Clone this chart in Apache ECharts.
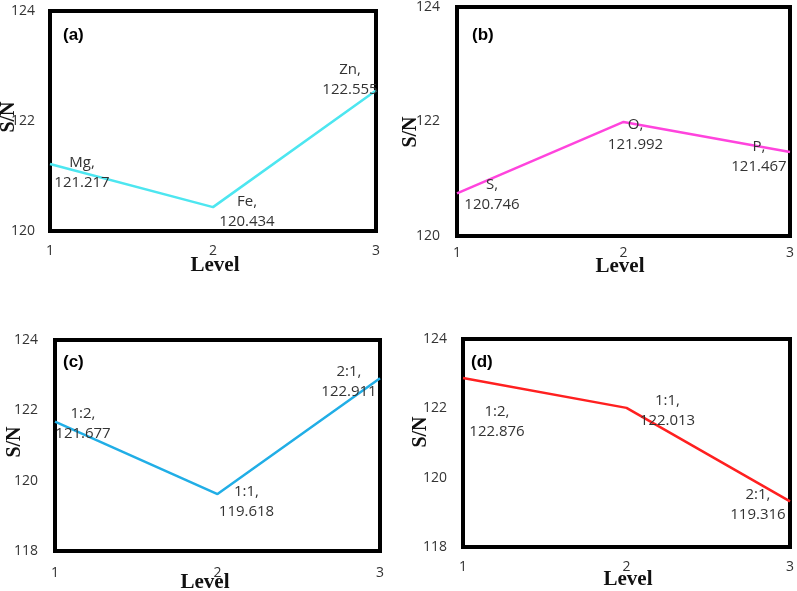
<!DOCTYPE html>
<html>
<head>
<meta charset="utf-8">
<script src="https://cdn.jsdelivr.net/npm/echarts@6/dist/echarts.min.js"></script>
<style>html,body{margin:0;padding:0;background:#fff}#c{width:797px;height:591px}</style>
</head>
<body>
<div id="c"></div>
<script>
const levels = [1, 2, 3];
const xTicks = [1, 2, 3];
const namesA = ['Mg', 'Fe', 'Zn'];
const valuesA = [121.217, 120.434, 122.555];
const namesB = ['S', 'O', 'P'];
const valuesB = [120.746, 121.992, 121.467];
const namesC = ['1:2', '1:1', '2:1'];
const valuesC = [121.677, 119.618, 122.911];
const namesD = ['1:2', '1:1', '2:1'];
const valuesD = [122.876, 122.013, 119.316];
const yTicksAB = [120, 122, 124];
const yTicksCD = [118, 120, 122, 124];
const panelTags = ['(a)', '(b)', '(c)', '(d)'];

const panels = [
  {names: namesA, values: valuesA, yt: yTicksAB, color: '#4de6f0',
   grid: {left: 50, top: 11, width: 326, height: 220}, xMargin: 13, yMargin: 15,
   offs: [[32, 9], [34, 5], [-26, -11]], tag: [63, 35], level: [215, 266], sn: [9, 117]},
  {names: namesB, values: valuesB, yt: yTicksAB, color: '#ff44dd',
   grid: {left: 457, top: 7, width: 333, height: 229}, xMargin: 10, yMargin: 17,
   offs: [[35, 1], [12, 13], [-31, 5]], tag: [472, 35], level: [620, 267], sn: [411, 132]},
  {names: namesC, values: valuesC, yt: yTicksCD, color: '#21aee6',
   grid: {left: 55, top: 340, width: 325, height: 211}, xMargin: 15, yMargin: 17,
   offs: [[28, 2], [29, 8], [-31, 3]], tag: [63, 362], level: [205, 583], sn: [15, 442]},
  {names: namesD, values: valuesD, yt: yTicksCD, color: '#ff2020',
   grid: {left: 463, top: 339, width: 330, height: 208}, xMargin: 13, yMargin: 16,
   offs: [[34, 44], [41, 3], [-32, 3]], tag: [471, 362], level: [628, 580], sn: [421, 432]}
];

const grid = [], xAxis = [], yAxis = [], series = [], graphic = [];
panels.forEach((p, i) => {
  grid.push(Object.assign({show: true, borderColor: '#000', borderWidth: 4, backgroundColor: '#fff'}, p.grid));
  xAxis.push({
    type: 'value', gridIndex: i, min: xTicks[0], max: xTicks[xTicks.length - 1], interval: 1,
    axisLine: {show: false}, axisTick: {show: false}, splitLine: {show: false},
    axisLabel: {margin: p.xMargin, color: '#333', fontFamily: 'Open Sans', fontSize: 14}
  });
  yAxis.push({
    type: 'value', gridIndex: i, min: p.yt[0], max: p.yt[p.yt.length - 1], interval: 2,
    axisLine: {show: false}, axisTick: {show: false}, splitLine: {show: false},
    axisLabel: {margin: p.yMargin, color: '#333', fontFamily: 'Open Sans', fontSize: 14}
  });
  series.push({
    type: 'line', xAxisIndex: i, yAxisIndex: i,
    symbol: 'circle', symbolSize: 1, showSymbol: true,
    itemStyle: {color: 'rgba(0,0,0,0)'},
    lineStyle: {color: p.color, width: 2.5},
    z: 3,
    label: {
      show: true, position: 'inside', color: '#333', fontFamily: 'Open Sans', fontSize: 15,
      lineHeight: 20, align: 'center', verticalAlign: 'middle',
      formatter: (prm) => p.names[prm.dataIndex] + ',\n' + p.values[prm.dataIndex].toFixed(3)
    },
    data: levels.map((lv, k) => ({value: [lv, p.values[k]], label: {offset: p.offs[k]}}))
  });
  graphic.push({type: 'text', x: p.tag[0], y: p.tag[1], z: 10,
    style: {text: panelTags[i], fontFamily: 'Liberation Sans', fontWeight: 'bold', fontSize: 17,
      fill: '#000', textAlign: 'left', textVerticalAlign: 'middle'}});
  graphic.push({type: 'text', x: p.level[0], y: p.level[1], z: 10,
    style: {text: 'Level', fontFamily: 'Liberation Serif', fontWeight: 'bold', fontSize: 21,
      fill: '#111', textAlign: 'center', textVerticalAlign: 'middle'}});
  graphic.push({type: 'text', x: p.sn[0], y: p.sn[1], rotation: Math.PI / 2, z: 10,
    style: {text: 'S/N', fontFamily: 'Liberation Serif', fontWeight: 'bold', fontSize: 20,
      fill: '#111', textAlign: 'center', textVerticalAlign: 'middle'}});
});

const chart = echarts.init(document.getElementById('c'), null, {renderer: 'canvas'});
chart.setOption({animation: false, backgroundColor: '#fff', grid, xAxis, yAxis, series, graphic});
</script>
</body>
</html>
